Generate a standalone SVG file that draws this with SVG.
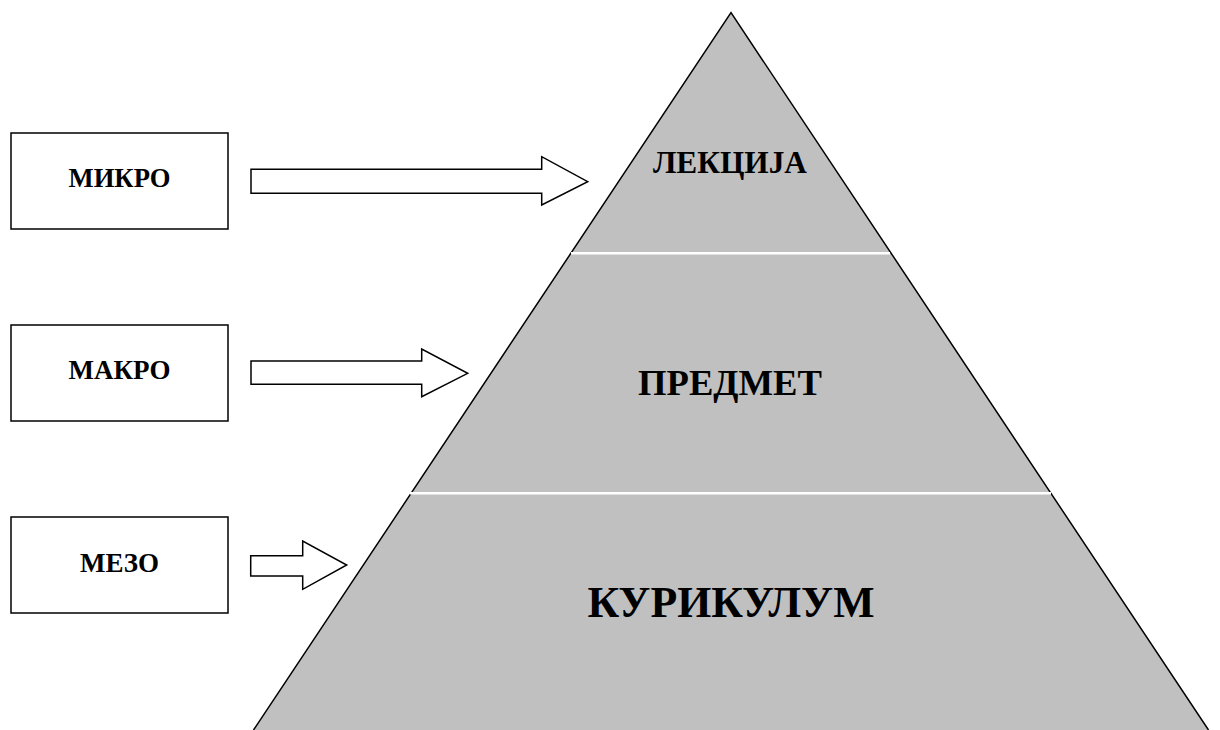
<svg xmlns="http://www.w3.org/2000/svg" width="1220" height="730" viewBox="0 0 1220 730">
<style>
.box{fill:#fff;stroke:#000;stroke-width:1.5}
.arr{fill:#fff;stroke:#000;stroke-width:1.5;stroke-linejoin:miter}
.t{font-family:"Liberation Serif","Times New Roman",serif;font-weight:bold;fill:#000;text-anchor:middle}
.sep{stroke:#fff;stroke-width:2.5}
</style>
<rect width="1220" height="730" fill="#fff"/>
<g id="pyramid">
<polygon points="731,12.7 1208.5,730 253.5,730" fill="#c0c0c0" stroke="none"/>
<polyline points="253.5,730 731,12.7 1208.5,730" fill="none" stroke="#000" stroke-width="1.5"/>
<line class="sep" x1="571" y1="253.3" x2="890" y2="253.3"/>
<line class="sep" x1="410" y1="493.3" x2="1051" y2="493.3"/>
</g>
<g id="level-lekcija"><text class="t" x="730" y="172.7" font-size="31" textLength="154" lengthAdjust="spacingAndGlyphs">ЛЕКЦИЈА</text></g>
<g id="level-predmet"><text class="t" x="730" y="395" font-size="36" textLength="184" lengthAdjust="spacingAndGlyphs">ПРЕДМЕТ</text></g>
<g id="level-kurikulum"><text class="t" x="731" y="616.7" font-size="44" textLength="287" lengthAdjust="spacingAndGlyphs">КУРИКУЛУМ</text></g>
<g id="box-mikro"><rect class="box" x="11" y="133" width="217" height="96"/><text class="t" x="119.5" y="187" font-size="27" textLength="102" lengthAdjust="spacingAndGlyphs">МИКРО</text></g>
<g id="box-makro"><rect class="box" x="11" y="325" width="217" height="96"/><text class="t" x="119.5" y="379" font-size="27">МАКРО</text></g>
<g id="box-mezo"><rect class="box" x="11" y="517" width="217" height="96"/><text class="t" x="119.5" y="572" font-size="27">МЕЗО</text></g>
<g id="connectors">
<polygon class="arr" points="251,169.3 541.7,169.3 541.7,156.7 587.7,181.7 541.7,205 541.7,193.3 251,193.3"/>
<polygon class="arr" points="251,361 421.7,361 421.7,349 467.7,373.3 421.7,396.7 421.7,384.3 251,384.3"/>
<polygon class="arr" points="250.7,555.7 302.7,555.7 302.7,541 346.7,565 302.7,589.3 302.7,576 250.7,576"/>
</g>
</svg>
